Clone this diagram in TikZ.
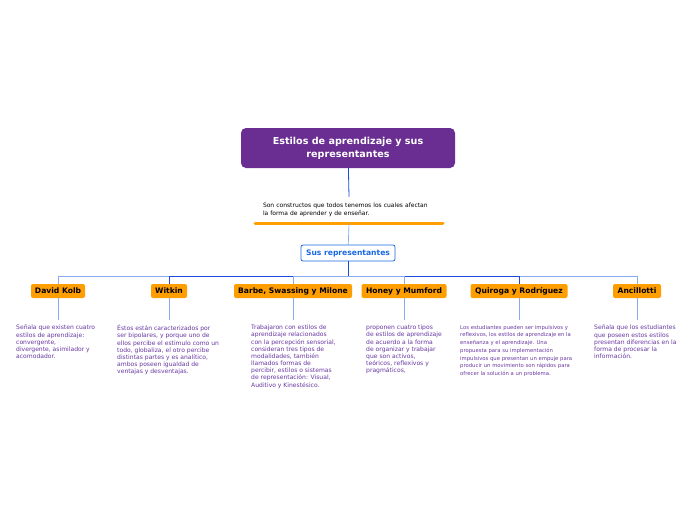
\documentclass[tikz,border=0pt]{standalone}
\usepackage{fontspec}
\setmainfont{DejaVu Sans}
\usepackage{xcolor}
\usepackage{tikz}

\definecolor{titlepurple}{RGB}{106,45,145}
\definecolor{nameorange}{RGB}{255,158,0}
\definecolor{notepurple}{RGB}{104,56,160}
\definecolor{repblue}{RGB}{25,105,225}
\definecolor{darkline}{RGB}{25,75,225}
\definecolor{lightline}{RGB}{135,170,240}

\begin{document}
\begin{tikzpicture}[x=1pt, y=-1pt,
  every node/.style={font=\fontsize{6.05}{7.15}\selectfont},
  person/.style={fill=nameorange, rounded corners=2pt, inner sep=0pt, minimum height=14pt,
    font=\bfseries\fontsize{7.6}{8}\selectfont},
  note/.style={anchor=north west, align=left, inner sep=0pt, text=notepurple},
  link/.style={draw=lightline, line width=0.7pt},
  stem/.style={draw=darkline, line width=0.8pt}]
  \useasboundingbox (0,0) rectangle (696,520);

  \node[fill=titlepurple, rounded corners=5pt, minimum width=214pt, minimum height=40pt,
    text=white, align=center, font=\bfseries\fontsize{9.6}{13}\selectfont]
    (title) at (348,148) {Estilos de aprendizaje y sus\\representantes};
  \node[anchor=south, text width=172pt, inner xsep=8pt, inner ysep=6pt, align=left,
    font=\fontsize{6}{8}\selectfont]
    (def) at (349,223) {Son constructos que todos tenemos los cuales afectan\\la forma de aprender y de enseñar.};
  \coordinate (lineleft) at (255,223);
  \coordinate (lineright) at (443,223);
  \draw[nameorange, line width=3pt, line cap=round] (lineleft) -- (lineright);
  \node[draw=repblue, line width=0.8pt, fill=white, rounded corners=2pt, minimum width=94pt,
    minimum height=16pt, text=repblue, font=\bfseries\fontsize{7.6}{8}\selectfont]
    (reps) at (348,253) {Sus representantes};
  \coordinate (hub) at (348,276);

  \node[person, minimum width=54pt] (kolb) at (58,291) {David Kolb};
  \node[person, minimum width=36pt] (witkin) at (169,291) {Witkin};
  \node[person, minimum width=118pt] (barbe) at (293,291) {Barbe, Swassing y Milone};
  \node[person, minimum width=85pt] (honey) at (404,291) {Honey y Mumford};
  \node[person, minimum width=97pt] (quiroga) at (519,291) {Quiroga y Rodríguez};
  \node[person, minimum width=48pt] (ancillotti) at (637,291) {Ancillotti};

  % end points of the short stems above the notes
  \coordinate (kolbend) at (58,320);
  \coordinate (witkinend) at (169,320);
  \coordinate (barbeend) at (293,320);
  \coordinate (honeyend) at (404,320);
  \coordinate (quirogaend) at (519,320);
  \coordinate (ancillottiend) at (637,320);

  \draw[stem] (title) -- (def.north);
  \draw[link] (def.south) -- (reps);
  \draw[stem] (reps) -- (hub);
  \draw[link] (hub) -| (kolb);
  \draw[link] (hub) -| (ancillotti);
  \draw[stem] (hub) -| (witkin);
  \draw[stem] (hub) -| (quiroga);
  \draw[link] (hub) -| (barbe);
  \draw[link] (hub) -| (honey);

  \draw[link] (kolb) -- (kolbend);
  \draw[link] (witkin) -- (witkinend);
  \draw[link] (barbe) -- (barbeend);
  \draw[link] (honey) -- (honeyend);
  \draw[link] (quiroga) -- (quirogaend);
  \draw[link] (ancillotti) -- (ancillottiend);

  \node[note] (kolbtxt) at (16,325) {Señala que existen cuatro\\estilos de aprendizaje:\\convergente,\\divergente, asimilador y\\acomodador.};
  \node[note] (witkintxt) at (117,325) {Éstos están caracterizados por\\ser bipolares, y porque uno de\\ellos percibe el estimulo como un\\todo, globaliza, el otro percibe\\distintas partes y es analítico,\\ambos poseen igualdad de\\ventajas y desventajas.};
  \node[note] (barbetxt) at (251,325) {Trabajaron con estilos de\\aprendizaje relacionados\\con la percepción sensorial,\\consideran tres tipos de\\modalidades, también\\llamados formas de\\percibir, estilos o sistemas\\de representación: Visual,\\Auditivo y Kinestésico.};
  \node[note] (honeytxt) at (366,325) {proponen cuatro tipos\\de estilos de aprendizaje\\de acuerdo a la forma\\de organizar y trabajar\\que son activos,\\teóricos, reflexivos y\\pragmáticos,};
  \node[note, font=\fontsize{5.3}{7.75}\selectfont] (quirogatxt) at (460,325) {Los estudiantes pueden ser impulsivos y\\reflexivos, los estilos de aprendizaje en la\\enseñanza y el aprendizaje. Una\\propuesta para su implementación\\impulsivos que presentan un empuje para\\producir un movimiento son rápidos para\\ofrecer la solución a un problema.};
  \node[note] (ancillottitxt) at (594,325) {Señala que los estudiantes\\que poseen estos estilos\\presentan diferencias en la\\forma de procesar la\\información.};
\end{tikzpicture}
\end{document}
